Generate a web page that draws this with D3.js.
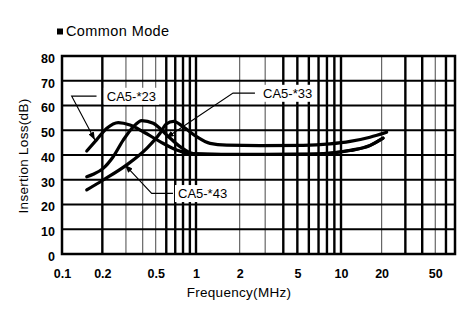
<!DOCTYPE html>
<html><head><meta charset="utf-8">
<script src="https://cdn.jsdelivr.net/npm/d3@7"></script>
<style>
body{margin:0;background:#fff}
svg{display:block}
text{font-family:"Liberation Sans",Arial,Helvetica,sans-serif;fill:#000}
</style>
</head><body>
<svg id="c" width="468" height="331"></svg>
<script>
// ---------- data ----------
const title = "Common Mode";
const xTitle = "Frequency(MHz)";
const yTitle = "Insertion Loss(dB)";
const xTickValues = [0.1, 0.2, 0.5, 1, 2, 5, 10, 20, 50];
const xTickLabels = ["0.1", "0.2", "0.5", "1", "2", "5", "10", "20", "50"];
const yTickValues = [0, 10, 20, 30, 40, 50, 60, 70, 80];
const xGridValues = [0.2,0.3,0.4,0.5,0.6,0.7,0.8,0.9,1,2,3,4,5,6,7,8,9,10,20,30,40,50,60];
const xGridThin = [0.3, 0.4, 0.5, 2, 3, 20, 50];
const yGridValues = [10, 20, 30, 40, 50, 60, 70];

const seriesNames = ["CA5-*23", "CA5-*33", "CA5-*43"];
const freq23 = [0.153, 0.181, 0.216, 0.263, 0.322, 0.404, 0.539, 0.718, 0.955, 1.5, 3, 6, 8.4, 11.7, 16.4, 20.5];
const loss23 = [41.6, 46.1, 50.8, 53.1, 52.1, 49.4, 45.4, 42.0, 40.4, 40.2, 40.2, 40.3, 40.7, 41.8, 43.8, 46.8];
const freq33 = [0.153, 0.171, 0.203, 0.241, 0.287, 0.34, 0.394, 0.48, 0.604, 0.76, 0.955, 1.5, 3, 6, 8.4, 11.7, 16.4, 20.5];
const loss33 = [31.2, 32.2, 34.6, 39.3, 46.1, 51.4, 53.9, 52.8, 48.1, 43.4, 40.6, 40.3, 40.3, 40.4, 40.8, 41.9, 43.9, 46.8];
const freq43 = [0.153, 0.203, 0.304, 0.429, 0.539, 0.6, 0.68, 0.804, 1.01, 1.25, 1.63, 2.76, 5.5, 8.4, 11.7, 16.4, 21.8];
const loss43 = [25.9, 29.9, 36.0, 42.7, 48.8, 52.5, 53.6, 51.4, 47.4, 44.7, 44.0, 43.8, 43.9, 44.5, 45.5, 47.2, 49.2];

// annotation anchors (in data units)
const labelFreq = [0.216, 2.9, 0.734];
const labelLoss = [63.8, 65.0, 24.5];
const elbowFreq = [0.118, 1.8, 0.467];
const stubFreq  = [0.181, 2.55, 0.673];
const tipFreq   = [0.176, 0.597, 0.295];
const tipLoss   = [46.1, 46.9, 36.0];

// ---------- chart ----------
const svg = d3.select("#c");
const x = d3.scaleLog().domain([0.1, 1, 10, 70]).range([62, 196, 341, 455]);
const y = d3.scaleLinear().domain([0, 80]).range([254, 56]);

// title
svg.append("rect").attr("x", 57).attr("y", 28.5).attr("width", 6).attr("height", 6).attr("fill", "#000");
svg.append("text").attr("x", 66).attr("y", 36).attr("font-size", 14.5)
  .attr("letter-spacing", 0.4).attr("font-weight", 500).text(title);

// grid
const g = svg.append("g");
g.selectAll(".vg").data(xGridValues).join("line")
  .attr("x1", d => x(d)).attr("x2", d => x(d)).attr("y1", y(80)).attr("y2", y(0))
  .attr("stroke", d => xGridThin.includes(d) ? "#666" : "#000")
  .attr("stroke-width", d => xGridThin.includes(d) ? 1.2 : 2.4);
g.selectAll(".hg").data(yGridValues).join("line")
  .attr("x1", x(0.1)).attr("x2", x(70)).attr("y1", d => y(d)).attr("y2", d => y(d))
  .attr("stroke", "#000").attr("stroke-width", 2.2);
g.append("rect").attr("x", x(0.1)).attr("y", y(80)).attr("width", x(70) - x(0.1)).attr("height", y(0) - y(80))
  .attr("fill", "none").attr("stroke", "#000").attr("stroke-width", 2.5);

// axes labels
const yAxis = svg.append("g").attr("transform", `translate(${x(0.1)},0)`)
  .call(d3.axisLeft(y).tickValues(yTickValues).tickSize(0).tickPadding(7));
yAxis.select(".domain").remove();
yAxis.selectAll("text").attr("font-size", 12.5).attr("font-weight", "bold").attr("dy", "0.5em")
  .style("font-family", '"Liberation Sans",Arial,sans-serif');

const xAxis = svg.append("g").attr("transform", `translate(0,${y(0)})`)
  .call(d3.axisBottom(x).tickValues(xTickValues).tickFormat((d, i) => xTickLabels[i]).tickSize(0).tickPadding(15));
xAxis.select(".domain").remove();
xAxis.selectAll("text").attr("font-size", 12.5).attr("font-weight", "bold")
  .style("font-family", '"Liberation Sans",Arial,sans-serif');

svg.append("text").attr("x", 239).attr("y", 297).attr("text-anchor", "middle")
  .attr("font-size", 13.5).attr("letter-spacing", 0.3).text(xTitle);
svg.append("text").attr("transform", "translate(28,156) rotate(-90)").attr("text-anchor", "middle")
  .attr("font-size", 13.5).attr("letter-spacing", 0.3).text(yTitle);

// curves
const series = [
  freq23.map((f, i) => [f, loss23[i]]),
  freq33.map((f, i) => [f, loss33[i]]),
  freq43.map((f, i) => [f, loss43[i]])
];
const line = d3.line().x(d => x(d[0])).y(d => y(d[1])).curve(d3.curveMonotoneX);
svg.append("g").selectAll("path").data(series).join("path")
  .attr("d", line).attr("fill", "none").attr("stroke", "#000")
  .attr("stroke-width", 3.2).attr("stroke-linecap", "round").attr("stroke-linejoin", "round");

// annotations
svg.append("defs").append("marker").attr("id", "arr")
  .attr("viewBox", "0 0 8 6").attr("refX", 8).attr("refY", 3)
  .attr("markerWidth", 8).attr("markerHeight", 6).attr("markerUnits", "userSpaceOnUse")
  .attr("orient", "auto")
  .append("path").attr("d", "M0,0L8,3L0,6Z").attr("fill", "#000");

const ann = svg.append("g");
seriesNames.forEach((name, i) => {
  const t = ann.append("text").attr("x", x(labelFreq[i])).attr("y", y(labelLoss[i]))
    .attr("dy", "0.36em").attr("font-size", 13).text(name);
  const bb = t.node().getBBox();
  ann.insert("rect", () => t.node())
    .attr("x", bb.x - 3).attr("y", bb.y - 1).attr("width", bb.width + 6).attr("height", bb.height + 2)
    .attr("fill", "#fff");
  ann.append("path")
    .attr("d", `M${x(stubFreq[i])},${y(labelLoss[i])}L${x(elbowFreq[i])},${y(labelLoss[i])}L${x(tipFreq[i])},${y(tipLoss[i])}`)
    .attr("fill", "none").attr("stroke", "#000").attr("stroke-width", 1.1)
    .attr("marker-end", "url(#arr)");
});
</script>
</body></html>
